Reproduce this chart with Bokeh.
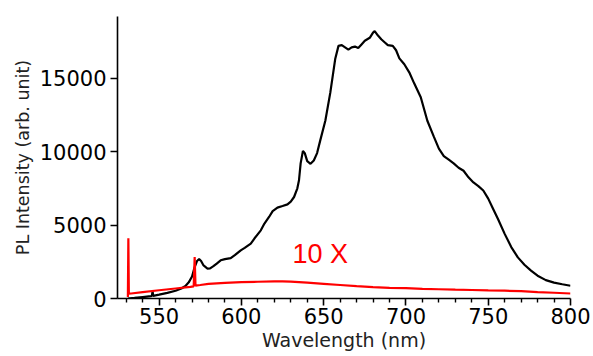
from bokeh.plotting import figure
from bokeh.models import Range1d, FixedTicker, ColumnDataSource
from bokeh.core.properties import value
from bokeh.embed import file_html
from bokeh.resources import INLINE

# Black PL spectrum (wavelength nm, intensity)
black_wl = [531, 535, 540, 545, 545.6, 546, 546.4, 550, 555, 560, 563.5, 566, 568, 570,
            571.5, 573, 574.3, 575.5, 577, 579.4, 581, 583, 585, 587.4, 590, 593.5, 596,
            599.6, 602, 605.7, 608, 611.8, 614, 616.8, 619, 621.9, 625, 628, 630, 632, 634,
            635, 636, 637.4, 638.5, 640, 642, 644, 646, 648, 651, 654, 657, 659, 661, 663,
            665, 667, 669, 671, 673, 675, 678, 680, 681, 683, 685, 687, 689, 692, 694, 696,
            699, 702, 705, 709, 713, 717, 720, 723, 726, 729, 732, 735, 738, 741, 744, 747,
            750, 753, 756, 760, 764, 768, 772, 776, 780, 785, 790, 795, 800]
black_int = [0, 40, 100, 160, 170, 500, 180, 260, 380, 530, 680, 850, 1100, 1500,
             2100, 2550, 2680, 2550, 2250, 2040, 2050, 2200, 2380, 2600, 2680, 2750, 2950,
             3280, 3450, 3740, 4100, 4640, 5100, 5550, 5950, 6190, 6300, 6410, 6600, 6910, 7500,
             8050, 9200, 10050, 9900, 9350, 9170, 9400, 9900, 10800, 12100, 14000, 16300, 17200, 17250, 17100,
             16950, 17100, 17150, 17050, 17300, 17550, 17750, 18100, 18200, 17900, 17650, 17450, 17250, 17200, 16900, 16350,
             15950, 15400, 14650, 13700, 12100, 11000, 10200, 9700, 9450, 9200, 8900, 8700, 8250, 7900, 7650, 7350,
             6800, 6100, 5400, 4400, 3500, 2800, 2300, 1900, 1550, 1250, 1080, 970, 870]

# Red 10x spectrum
red_wl = [531, 531.3, 531.6, 533, 540, 550, 560, 569, 571, 571.6, 572.1, 575, 580, 590,
          600, 610, 620, 625, 630, 640, 650, 660, 670, 680, 690, 700, 710, 720, 730, 740,
          750, 760, 770, 780, 790, 800]
red_int = [100, 4100, 330, 340, 430, 560, 680, 790, 830, 2830, 880, 920, 990, 1060,
           1110, 1140, 1160, 1170, 1150, 1080, 1000, 920, 840, 780, 730, 700, 660, 630, 600, 580,
           550, 530, 500, 440, 390, 340]

x_ticks = [550, 600, 650, 700, 750, 800]
x_minor = [530, 540, 560, 570, 580, 590, 610, 620, 630, 640, 660, 670, 680, 690,
           710, 720, 730, 740, 760, 770, 780, 790]
y_ticks = [0, 5000, 10000, 15000]

annot_text = ["10 X"]
annot_x = [631]
annot_y = [3030]

x_title = "Wavelength (nm)"
y_title = "PL Intensity (arb. unit)"

FONT = "DejaVu Sans"

p = figure(width=593, height=356, output_backend="svg", toolbar_location=None,
           x_range=Range1d(524.7, 800), y_range=Range1d(0, 19200),
           min_border_left=117, min_border_right=23, min_border_top=16, min_border_bottom=58)
p.outline_line_color = None
p.xgrid.visible = False
p.ygrid.visible = False
p.background_fill_color = "white"
p.border_fill_color = "white"

p.line(black_wl, black_int, line_color="black", line_width=2.2)
p.line(red_wl, red_int, line_color="red", line_width=2.2)

src = ColumnDataSource(dict(x=annot_x, y=annot_y, t=annot_text))
p.text(x="x", y="y", text="t", source=src, text_color="red",
       text_font=value("Liberation Sans"), text_font_size="27px",
       text_baseline="alphabetic", text_align="left")

p.xaxis.ticker = FixedTicker(ticks=x_ticks, minor_ticks=x_minor)
p.yaxis.ticker = FixedTicker(ticks=y_ticks, minor_ticks=[])
p.xaxis.axis_label = x_title
p.yaxis.axis_label = y_title

for ax in (p.xaxis[0], p.yaxis[0]):
    ax.axis_line_color = "black"
    ax.axis_line_width = 1.6
    ax.major_tick_line_color = "black"
    ax.major_tick_line_width = 1.6
    ax.minor_tick_line_color = "black"
    ax.minor_tick_line_width = 1.4
    ax.major_tick_in = 0
    ax.major_tick_out = 7
    ax.minor_tick_in = 0
    ax.minor_tick_out = 4
    ax.major_label_text_font = FONT
    ax.major_label_text_font_size = "21px"
    ax.major_label_text_color = "black"
    ax.axis_label_text_font = FONT
    ax.axis_label_text_font_style = "normal"
    ax.axis_label_text_color = "#222222"

p.xaxis.axis_label_text_font_size = "19px"
p.yaxis.axis_label_text_font_size = "17.5px"
p.xaxis.major_label_standoff = 2
p.xaxis.axis_label_standoff = 2
p.yaxis.major_label_standoff = 4
p.yaxis.axis_label_standoff = 4

open("out.html", "w").write(file_html(p, INLINE))
